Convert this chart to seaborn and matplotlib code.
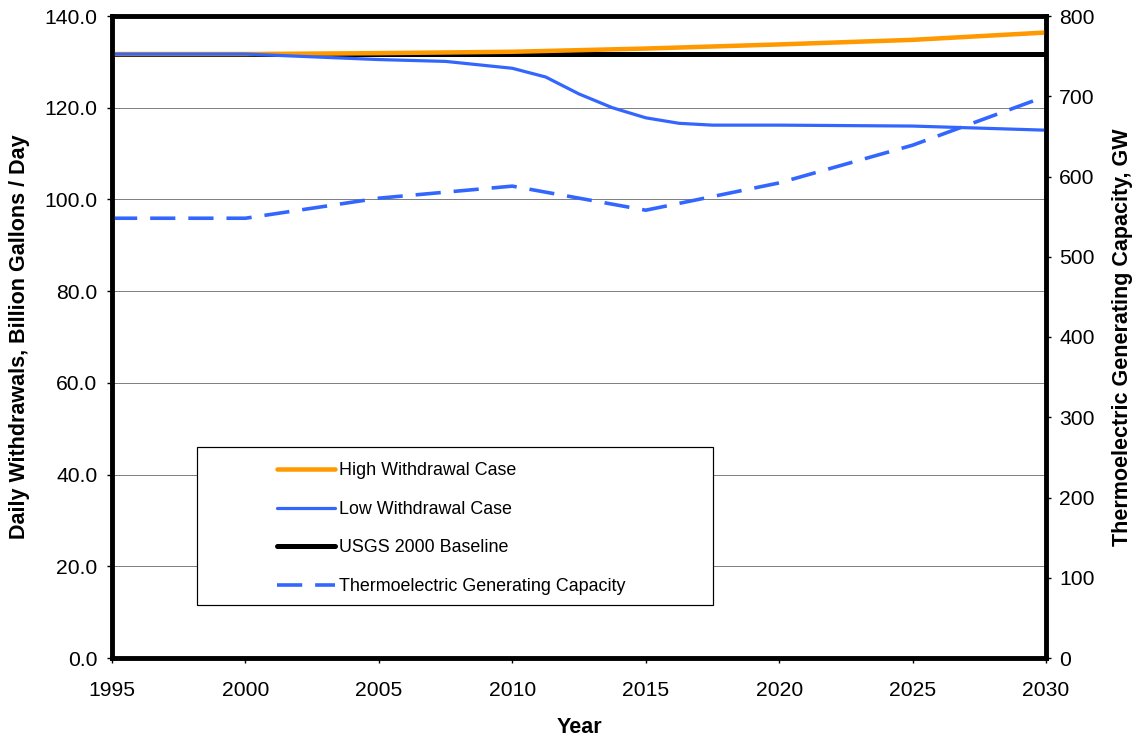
import matplotlib
matplotlib.use("Agg")
import matplotlib.pyplot as plt
import seaborn as sns
import pandas as pd
from matplotlib.patches import Rectangle
from matplotlib.lines import Line2D
from matplotlib.ticker import FormatStrFormatter, MultipleLocator

# ---- data ----
years = [1995, 2000, 2005, 2010, 2015, 2020, 2025, 2030]
high_withdrawal = [131.7, 131.7, 131.9, 132.2, 132.9, 133.8, 134.8, 136.4]

low_years = [1995, 2000, 2005, 2007.5, 2010, 2011.25, 2012.5, 2013.75, 2015,
             2016.25, 2017.5, 2020, 2025, 2030]
low_withdrawal = [131.7, 131.7, 130.5, 130.1, 128.6, 126.7, 123.0, 120.0, 117.8,
                  116.6, 116.2, 116.2, 116.0, 115.1]

baseline_years = [1995, 2030]
usgs_baseline = [131.7, 131.7]

capacity_years = [1995, 2000, 2005, 2010, 2015, 2020, 2025, 2030]
thermo_capacity = [548, 548, 573, 588, 558, 592, 639, 700]

x_ticks = [1995, 2000, 2005, 2010, 2015, 2020, 2025, 2030]
legend_labels = ["High Withdrawal Case", "Low Withdrawal Case",
                 "USGS 2000 Baseline", "Thermoelectric Generating Capacity"]

ORANGE = "#FF9900"
BLUE = "#3366FF"
DASH = (0, (7.0, 3.6))

sns.set_theme(style="white")
plt.rcParams["font.family"] = ["Liberation Sans", "DejaVu Sans"]
plt.rcParams["text.color"] = "black"
plt.rcParams["axes.labelcolor"] = "black"

fig = plt.figure(figsize=(11.35, 7.38), dpi=100)
ax = fig.add_axes([112 / 1135, 1 - 658 / 738, (1046 - 112) / 1135, (658 - 16) / 738])

px = 72 / 100.0  # points per pixel

df_high = pd.DataFrame({"Year": years, "v": high_withdrawal})
df_low = pd.DataFrame({"Year": low_years, "v": low_withdrawal})
df_base = pd.DataFrame({"Year": baseline_years, "v": usgs_baseline})
df_cap = pd.DataFrame({"Year": capacity_years, "v": thermo_capacity})

sns.lineplot(data=df_high, x="Year", y="v", ax=ax, color=ORANGE, lw=4.5 * px,
             estimator=None, sort=False, zorder=3, solid_capstyle="butt")
sns.lineplot(data=df_base, x="Year", y="v", ax=ax, color="black", lw=5 * px,
             estimator=None, sort=False, zorder=2, solid_capstyle="butt")
sns.lineplot(data=df_low, x="Year", y="v", ax=ax, color=BLUE, lw=3.2 * px,
             estimator=None, sort=False, zorder=4)

ax.set_xlim(1995, 2030)
ax.set_ylim(0, 140)
ax.yaxis.set_major_locator(MultipleLocator(20))
ax.yaxis.set_major_formatter(FormatStrFormatter("%.1f"))
ax.set_xticks(x_ticks)
ax.grid(axis="y", color="#808080", lw=1 * px)
ax.grid(axis="x", visible=False)
ax.set_axisbelow(True)

ax2 = ax.twinx()
sns.lineplot(data=df_cap, x="Year", y="v", ax=ax2, color=BLUE, lw=3.6 * px,
             estimator=None, sort=False, linestyle=DASH)
ax2.set_ylim(0, 800)
ax2.yaxis.set_major_locator(MultipleLocator(100))
ax2.set_xlim(1995, 2030)
ax2.grid(False)

for a in (ax, ax2):
    for s in a.spines.values():
        s.set_color("black")
        s.set_linewidth(4.5 * px)
    a.tick_params(axis="both", direction="out", length=3.6, width=1, color="black",
                  labelsize=15.2, labelcolor="black")

ax.tick_params(axis="y", left=True, right=False, pad=7)
ax.tick_params(axis="x", bottom=True, pad=13)
ax2.tick_params(axis="y", right=True, left=False, pad=6)

ax.set_xlabel("Year", fontsize=15.5, fontweight="bold", labelpad=12, color="black")
ax.set_ylabel("Daily Withdrawals, Billion Gallons / Day", fontsize=15.5,
              fontweight="bold", labelpad=10, color="black")
ax2.set_ylabel("Thermoelectric Generating Capacity, GW", fontsize=15.5,
               fontweight="bold", labelpad=12, color="black")

# legend box
box = Rectangle(((197 - 112) / 934, (658 - 605) / 642), (713 - 197) / 934,
                (605 - 447) / 642, transform=ax.transAxes, facecolor="white",
                edgecolor="black", lw=1.2 * px, zorder=10)
ax2.add_patch(box)
box.set_transform(ax.transAxes)

handles = [
    Line2D([], [], color=ORANGE, lw=4.5 * px),
    Line2D([], [], color=BLUE, lw=3.2 * px),
    Line2D([], [], color="black", lw=5 * px),
    Line2D([], [], color=BLUE, lw=3.6 * px, linestyle=DASH),
]
leg = ax2.legend(handles, legend_labels, loc="upper left",
                 bbox_to_anchor=((277 - 112) / 934 - 0.0152, (658 - 448) / 642),
                 bbox_transform=ax.transAxes, frameon=False, fontsize=12.9,
                 handlelength=3.24, handletextpad=0.22, labelspacing=1.2,
                 borderpad=0.3)
for t in leg.get_texts():
    t.set_color("black")
leg.set_zorder(11)

fig.savefig("out.png", dpi=100)
